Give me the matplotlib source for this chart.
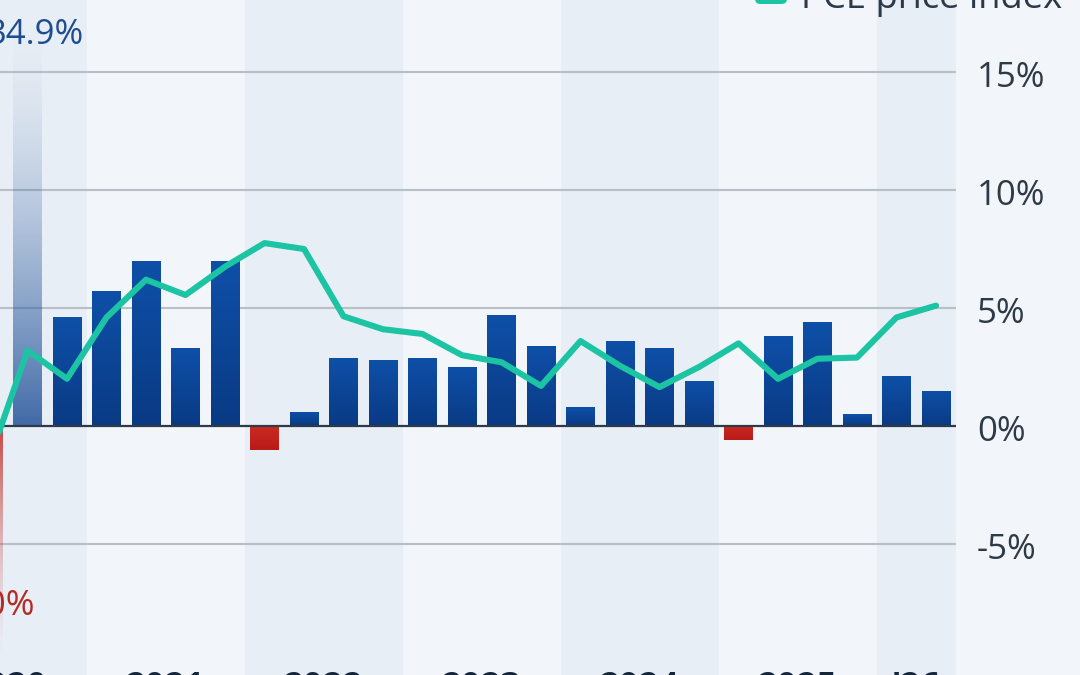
import numpy as np
import matplotlib
matplotlib.use("Agg")
import matplotlib.pyplot as plt
from matplotlib.patches import FancyBboxPatch

# ---------------- data ----------------
quarters = ["Q2 2020", "Q3 2020", "Q4 2020",
            "Q1 2021", "Q2 2021", "Q3 2021", "Q4 2021",
            "Q1 2022", "Q2 2022", "Q3 2022", "Q4 2022",
            "Q1 2023", "Q2 2023", "Q3 2023", "Q4 2023",
            "Q1 2024", "Q2 2024", "Q3 2024", "Q4 2024",
            "Q1 2025", "Q2 2025", "Q3 2025", "Q4 2025",
            "Q1 2026", "Q2 2026"]
gdp_growth = [-28.0, 34.9, 4.6,
              5.7, 7.0, 3.3, 7.0,
              -1.0, 0.6, 2.9, 2.8,
              2.9, 2.5, 4.7, 3.4,
              0.8, 3.6, 3.3, 1.9,
              -0.6, 3.8, 4.4, 0.5,
              2.1, 1.5]
pce_price_index = [-1.6, 3.2, 2.0,
                   4.6, 6.2, 5.55, 6.75,
                   7.75, 7.5, 4.65, 4.1,
                   3.9, 3.0, 2.7, 1.7,
                   3.6, 2.55, 1.65, 2.5,
                   3.5, 2.0, 2.85, 2.9,
                   4.6, 5.1]
years = [2020, 2021, 2022, 2023, 2024, 2025, 2026]
year_labels = ["2020", "2021", "2022", "2023", "2024", "2025", "'26"]
y_ticks = [-5, 0, 5, 10, 15]
y_tick_labels = ["-5%", "0%", "5%", "10%", "15%"]
legend_label = "PCE price index"

# ---------------- style ----------------
FONT = "Open Sans"
BG = "#f2f6fa"
BAND = "#e8eef5"
BLUE_TOP = np.array([0x0e, 0x50, 0xa8]) / 255
BLUE_BOT = np.array([0x0a, 0x3a, 0x84]) / 255
RED_TOP = np.array([0xb8, 0x1b, 0x18]) / 255
RED_BOT = np.array([0xcc, 0x2a, 0x22]) / 255
LINE = "#1cc4a3"
GRID = "#b9bfc6"
ZERO = "#2f3a48"
TICK_C = "#2e3a47"
YEAR_C = "#15263a"
W, H = 1080, 675
clip_limit = 15

def qpos(q):
    qq, yy = q.split()
    return (int(yy) - 2020) * 4 + int(qq[1]) - 1

pos = np.array([qpos(q) for q in quarters], dtype=float)
last_pos = pos.max()
plot_end = last_pos + 0.5

fig = plt.figure(figsize=(W / 100, H / 100), dpi=100)
fig.patch.set_facecolor(BG)
ax = fig.add_axes([0, 0, 1, 1])
ax.set_facecolor(BG)
ax.axis("off")

# pixel-calibrated limits
px_per_q = 39.5
x_left = 2 - 27.5 / px_per_q
x_right = x_left + W / px_per_q
px_per_pct = 23.6
y_top = 426 / px_per_pct
y_bot = -(H - 426) / px_per_pct

# year bands
for k, yr in enumerate(years):
    s = (yr - 2020) * 4 - 0.5
    e = min(s + 4, plot_end)
    if k % 2 == 0:
        ax.axvspan(s, e, color=BAND, zorder=0, lw=0)

# grid
for t in y_ticks:
    if t != 0:
        ax.hlines(t, x_left - 1, plot_end, color=GRID, lw=1.5, zorder=1)

bw = 0.71

def grad_img(c_top, c_bot, n=64):
    t = np.linspace(0, 1, n)[:, None]  # 0 bottom -> 1 top
    rgb = c_bot[None, :] * (1 - t) + c_top[None, :] * t
    a = np.ones((n, 1))
    return np.concatenate([rgb, a], axis=1)[:, None, :]

for p, v in zip(pos, gdp_growth):
    neg = v < 0
    if abs(v) > clip_limit:
        # oversized bar: faded gradient
        col = np.array([0x2a, 0x58, 0x9c]) / 255 if not neg else np.array([0xc4, 0x30, 0x2a]) / 255
        vv = y_top if not neg else y_bot
        bar = ax.bar(p, vv, width=bw, color="none", lw=0, zorder=2)[0]
        n = 128
        t = np.linspace(0, 1, n)[:, None]  # 0 at zero line -> 1 far end
        rgb = np.repeat(col[None, :], n, axis=0)
        a = 0.88 * (1 - np.clip(t * 1.05, 0, 1)) ** 1.6
        img = np.concatenate([rgb, a], axis=1)[:, None, :]
        ext = [p - bw / 2, p + bw / 2, 0, vv]
        im = ax.imshow(img, extent=ext, origin="lower", aspect="auto",
                       interpolation="bilinear", zorder=2)
        im.set_clip_path(bar)
        lab = f"{v:.1f}%"
        dx = 0.18 if not neg else -0.18
        ax.text(p + dx, 16.2 if not neg else -8.0, lab, ha="center", va="baseline",
                fontsize=25, family=FONT,
                color="#1d4e8f" if not neg else "#b52a25", zorder=5)
    else:
        bar = ax.bar(p, v, width=bw, color="none", lw=0, zorder=2)[0]
        if neg:
            img = grad_img(RED_BOT, RED_TOP)
            ext = [p - bw / 2, p + bw / 2, v, 0]
        else:
            img = grad_img(BLUE_TOP, BLUE_BOT)
            ext = [p - bw / 2, p + bw / 2, 0, v]
        im = ax.imshow(img, extent=ext, origin="lower", aspect="auto",
                       interpolation="bilinear", zorder=2)
        im.set_clip_path(bar)

# zero line
ax.hlines(0, x_left - 1, plot_end, color=ZERO, lw=1.6, zorder=3)

# PCE line
ax.plot(pos, pce_price_index, color=LINE, lw=4.4, zorder=4,
        solid_joinstyle="round", solid_capstyle="round")

ax.set_xlim(x_left, x_right)
ax.set_ylim(y_bot, y_top)

# y tick labels (right side)
for t, lab in zip(y_ticks, y_tick_labels):
    ax.text(977 / W, t - 15 / px_per_pct, lab, transform=ax.get_yaxis_transform(),
            ha="left", va="baseline", fontsize=25, family=FONT, color=TICK_C)

# year labels (cut off at bottom)
for yr, lab in zip(years, year_labels):
    s = (yr - 2020) * 4 - 0.5
    e = min(s + 4, plot_end)
    ax.text((s + e) / 2, -(698 - 426) / px_per_pct, lab, ha="center", va="baseline",
            fontsize=25, family=FONT, fontweight="bold", color=YEAR_C)

# legend (cut off at top)
sq = FancyBboxPatch((755 / W, (H - 4) / H), 32 / W, 30 / H,
                    boxstyle="round,pad=0,rounding_size=0.005",
                    transform=fig.transFigure, facecolor=LINE, edgecolor="none",
                    mutation_aspect=W / H, clip_on=False)
fig.patches.append(sq)
fig.text(801 / W, (H - 8) / H, legend_label, ha="left", va="baseline",
         fontsize=26.2, family=FONT, color="#2b3948")

fig.savefig("out.png", dpi=100, facecolor=BG)
